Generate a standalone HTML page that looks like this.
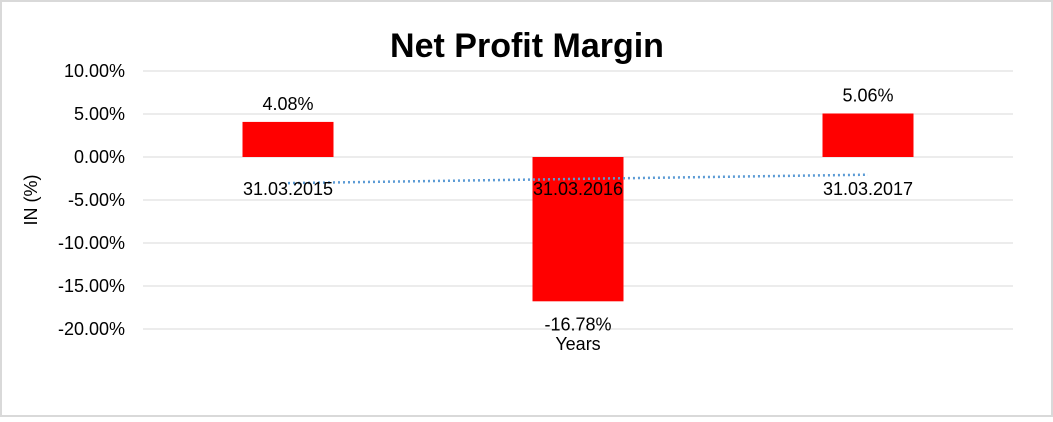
<!DOCTYPE html>
<html><head><meta charset="utf-8"><style>
body{margin:0;background:#fff;}
svg text{font-family:"Liberation Sans",Arial,sans-serif;}
</style></head><body>
<svg width="1053" height="417" xmlns="http://www.w3.org/2000/svg">
<rect x="1" y="1" width="1051" height="415" fill="#fff" stroke="#d9d9d9" stroke-width="2"/>
<text x="527" y="57" text-anchor="middle" font-size="34" font-weight="bold">Net Profit Margin</text>
<g id="grid"></g><g id="bars"></g><g id="labels"></g>
<text x="578" y="350" text-anchor="middle" font-size="18">Years</text>
<text transform="translate(37,200) rotate(-90)" text-anchor="middle" font-size="18">IN (%)</text>
</svg>
<script>
const categories=["31.03.2015","31.03.2016","31.03.2017"];
const values=[4.08,-16.78,5.06];
const ticks=[10,5,0,-5,-10,-15,-20];
const NS="http://www.w3.org/2000/svg";
const x0=143,x1=1013,yTop=71,pxPer=43/5;
function y(v){return yTop+(10-v)*pxPer;}
function xc(i){return x0+(x1-x0)/categories.length*(i+0.5);}
function mk(t,a,p){const e=document.createElementNS(NS,t);for(const k in a)e.setAttribute(k,a[k]);p.appendChild(e);return e;}
const g=document.getElementById('grid'),b=document.getElementById('bars'),l=document.getElementById('labels');
ticks.forEach(t=>{
 const ln=mk('line',{x1:x0,x2:x1,y1:y(t),y2:y(t),stroke:'#d9d9d9','stroke-width':1},g);
 
 
 const tx=mk('text',{x:125,y:y(t)+6,'text-anchor':'end','font-size':18},g);
 tx.textContent=t.toFixed(2)+'%';
 
 
});
const bw=91;
values.forEach((v,i)=>{
 const top=Math.min(y(v),y(0)),h=Math.abs(y(v)-y(0));
 const r=mk('rect',{x:xc(i)-bw/2,y:top,width:bw,height:h,fill:'#ff0000'},b);
 
 
 const vl=mk('text',{x:xc(i),y:v>=0?y(v)-12:y(v)+29,'text-anchor':'middle','font-size':18},l);
 vl.textContent=v.toFixed(2)+'%';
 
 
});
const n=values.length,mx=(n-1)/2,my=values.reduce((a,c)=>a+c,0)/n;
let sxy=0,sxx=0;values.forEach((v,i)=>{sxy+=(i-mx)*(v-my);sxx+=(i-mx)*(i-mx);});
const sl=sxy/sxx;
const tl=mk('line',{x1:xc(0),y1:y(my+sl*(0-mx)),x2:xc(n-1),y2:y(my+sl*(n-1-mx)),stroke:'#5b9bd5','stroke-width':2.5,'stroke-dasharray':'2 3'},l);


categories.forEach((c,i)=>{
 const t=mk('text',{x:xc(i),y:195,'text-anchor':'middle','font-size':18},l);
 t.textContent=c;
 
 
});
</script>
</body></html>
